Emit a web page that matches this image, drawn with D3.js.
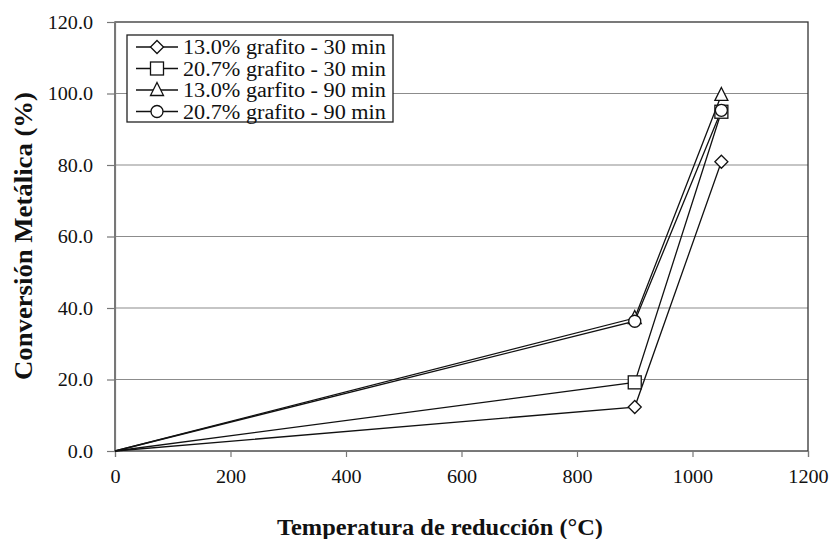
<!DOCTYPE html>
<html>
<head>
<meta charset="utf-8">
<script src="https://cdn.jsdelivr.net/npm/d3@7"></script>
<style>
  html, body { margin: 0; padding: 0; background: #fff; }
  svg { display: block; font-family: "Liberation Serif", "Times New Roman", serif; }
</style>
</head>
<body>
<svg id="chart" width="830" height="539"></svg>
<script>
// Reduction temperatures (°C)
const temperatures = [0, 900, 1050];

// Metallic conversion (%) per series
const seriesNames = [
  "13.0% grafito - 30 min",
  "20.7% grafito - 30 min",
  "13.0% garfito - 90 min",
  "20.7% grafito - 90 min"
];
const graphite13_30 = [0, 12.3, 80.9];
const graphite207_30 = [0, 19.2, 94.9];
const graphite13_90 = [0, 37.2, 99.6];
const graphite207_90 = [0, 36.3, 95.3];
const markerTypes = ["diamond", "square", "triangle", "circle"];

const xTicks = [0, 200, 400, 600, 800, 1000, 1200];
const yTicks = [0, 20, 40, 60, 80, 100, 120];

const seriesValues = [graphite13_30, graphite207_30, graphite13_90, graphite207_90];

const svg = d3.select("#chart");
const plot = { left: 115, right: 808, top: 22, bottom: 451 };

const x = d3.scaleLinear().domain([0, 1200]).range([plot.left, plot.right]);
const y = d3.scaleLinear().domain([0, 120]).range([plot.bottom, plot.top]);

// Widen serif text horizontally by factor k
function widen(sel, k) {
  sel.each(function () {
    const w = this.getComputedTextLength();
    d3.select(this).attr("textLength", w * k).attr("lengthAdjust", "spacingAndGlyphs");
  });
}

// Horizontal gridlines
svg.append("g")
  .selectAll("line")
  .data(yTicks.filter(v => v > 0 && v < 120))
  .join("line")
  .attr("x1", plot.left).attr("x2", plot.right)
  .attr("y1", d => y(d)).attr("y2", d => y(d))
  .attr("stroke", "#8c8c8c").attr("stroke-width", 1.2);

// Plot frame
svg.append("rect")
  .attr("x", plot.left).attr("y", plot.top)
  .attr("width", plot.right - plot.left).attr("height", plot.bottom - plot.top)
  .attr("fill", "none").attr("stroke", "#333").attr("stroke-width", 1.3);

// Axes
const xAxis = d3.axisBottom(x).tickValues(xTicks).tickSize(6).tickPadding(13).tickFormat(d3.format("d"));
const yAxis = d3.axisLeft(y).tickValues(yTicks).tickSize(8).tickPadding(14).tickFormat(d3.format(".1f"));

const gx = svg.append("g").attr("transform", `translate(0,${plot.bottom})`).call(xAxis);
const gy = svg.append("g").attr("transform", `translate(${plot.left},0)`).call(yAxis);

[gx, gy].forEach(g => {
  g.select(".domain").attr("stroke", "#777").attr("stroke-width", 1.2);
  g.selectAll(".tick line").attr("stroke", "#777").attr("stroke-width", 1.2);
  g.selectAll(".tick text")
    .attr("fill", "#111")
    .style("font-family", "'Liberation Serif', 'Times New Roman', serif")
    .style("font-size", "18px");
  widen(g.selectAll(".tick text"), 1.12);
});
gy.selectAll(".tick text").attr("dy", "0.35em");

// Axis titles
svg.append("text")
  .attr("x", 440)
  .attr("y", 535)
  .attr("text-anchor", "middle")
  .attr("font-weight", "bold")
  .attr("font-size", "24px")
  .attr("fill", "#111")
  .attr("textLength", 326)
  .attr("lengthAdjust", "spacingAndGlyphs")
  .text("Temperatura de reducción (°C)");

svg.append("text")
  .attr("transform", "translate(32,236) rotate(-90)")
  .attr("text-anchor", "middle")
  .attr("font-weight", "bold")
  .attr("font-size", "25px")
  .attr("fill", "#111")
  .attr("textLength", 288)
  .attr("lengthAdjust", "spacingAndGlyphs")
  .text("Conversión Metálica (%)");

// Marker drawing
function marker(g, type) {
  const s = 6.5;
  if (type === "diamond") {
    g.append("path").attr("d", `M0,${-s}L${s},0L0,${s}L${-s},0Z`);
  } else if (type === "square") {
    g.append("rect").attr("x", -s).attr("y", -s).attr("width", 2 * s).attr("height", 2 * s);
  } else if (type === "triangle") {
    g.append("path").attr("d", `M0,${-s - 1}L${s},${s - 1}L${-s},${s - 1}Z`);
  } else {
    g.append("circle").attr("r", 6);
  }
  g.selectAll("*").attr("fill", "#fff").attr("stroke", "#111").attr("stroke-width", 1.3);
}

const line = d3.line().x(d => x(d[0])).y(d => y(d[1]));

seriesValues.forEach(vals => {
  const pts = temperatures.map((t, k) => [t, vals[k]]);
  svg.append("path")
    .attr("d", line(pts))
    .attr("fill", "none")
    .attr("stroke", "#111")
    .attr("stroke-width", 1.3);
});

seriesValues.forEach((vals, i) => {
  temperatures.forEach((t, k) => {
    if (t === 0) return;
    const g = svg.append("g").attr("transform", `translate(${x(t)},${y(vals[k])})`);
    marker(g, markerTypes[i]);
  });
});

// Legend
const legend = svg.append("g");
legend.append("rect")
  .attr("x", 127).attr("y", 35).attr("width", 266).attr("height", 87)
  .attr("fill", "#fff").attr("stroke", "#222").attr("stroke-width", 1.3);

seriesNames.forEach((name, i) => {
  const cy = 47 + i * 21.5;
  const row = legend.append("g");
  row.append("line")
    .attr("x1", 136).attr("x2", 178).attr("y1", cy).attr("y2", cy)
    .attr("stroke", "#111").attr("stroke-width", 1.3);
  const m = row.append("g").attr("transform", `translate(157,${cy})`);
  marker(m, markerTypes[i]);
  const t = row.append("text")
    .attr("x", 183).attr("y", cy).attr("dy", "0.35em")
    .attr("font-size", "20px").attr("fill", "#111")
    .text(name);
  widen(t, 1.11);
});
</script>
</body>
</html>
